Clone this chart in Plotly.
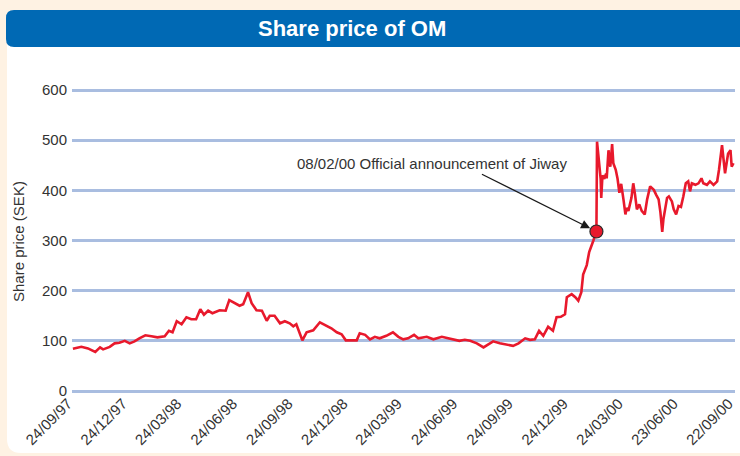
import plotly.graph_objects as go

# ---------------- data ----------------
dates = [
    "1997-09-24", "1997-10-01", "1997-10-08", "1997-10-19", "1997-10-31", "1997-11-08", "1997-11-13",
    "1997-11-24", "1997-12-02", "1997-12-10", "1997-12-19", "1997-12-27", "1998-01-04", "1998-01-12",
    "1998-01-22", "1998-02-01", "1998-02-11", "1998-02-23", "1998-03-02", "1998-03-08", "1998-03-15",
    "1998-03-23", "1998-03-31", "1998-04-08", "1998-04-16", "1998-04-23", "1998-04-29", "1998-05-06",
    "1998-05-13", "1998-05-25", "1998-06-04", "1998-06-10", "1998-06-19", "1998-06-27", "1998-07-03",
    "1998-07-11", "1998-07-17", "1998-07-25", "1998-08-03", "1998-08-11", "1998-08-16", "1998-08-24",
    "1998-09-02", "1998-09-10", "1998-09-18", "1998-09-24", "1998-09-29", "1998-10-09", "1998-10-16",
    "1998-10-27", "1998-11-07", "1998-11-15", "1998-11-26", "1998-12-05", "1998-12-13", "1998-12-20",
    "1998-12-30", "1999-01-07", "1999-01-12", "1999-01-21", "1999-01-29", "1999-02-06", "1999-02-14",
    "1999-02-25", "1999-03-08", "1999-03-17", "1999-03-25", "1999-04-02", "1999-04-12", "1999-04-19",
    "1999-05-03", "1999-05-14", "1999-05-28", "1999-06-08", "1999-06-19", "1999-06-26", "1999-07-05",
    "1999-07-14", "1999-07-25", "1999-08-05", "1999-08-13", "1999-08-21", "1999-09-01", "1999-09-12",
    "1999-09-23", "1999-10-02", "1999-10-07", "1999-10-13", "1999-10-21", "1999-10-29", "1999-11-05",
    "1999-11-12", "1999-11-20", "1999-11-28", "1999-12-04", "1999-12-11", "1999-12-18", "1999-12-21",
    "1999-12-29", "2000-01-04", "2000-01-09", "2000-01-14", "2000-01-17", "2000-01-23", "2000-01-27",
    "2000-01-31", "2000-02-03", "2000-02-08", "2000-02-09", "2000-02-15", "2000-02-16", "2000-02-18",
    "2000-02-21", "2000-02-24", "2000-02-25", "2000-02-28", "2000-03-02", "2000-03-05", "2000-03-07",
    "2000-03-11", "2000-03-14", "2000-03-17", "2000-03-20", "2000-03-24", "2000-03-27", "2000-03-29",
    "2000-04-01", "2000-04-06", "2000-04-09", "2000-04-12", "2000-04-15", "2000-04-19", "2000-04-23",
    "2000-04-28", "2000-05-02", "2000-05-07", "2000-05-13", "2000-05-17", "2000-05-21", "2000-05-24",
    "2000-05-27", "2000-05-29", "2000-06-01", "2000-06-04", "2000-06-07", "2000-06-12", "2000-06-15",
    "2000-06-19", "2000-06-23", "2000-06-27", "2000-07-01", "2000-07-05", "2000-07-09", "2000-07-12",
    "2000-07-15", "2000-07-21", "2000-07-26", "2000-07-31", "2000-08-03", "2000-08-09", "2000-08-14",
    "2000-08-20", "2000-08-26", "2000-08-29", "2000-09-03", "2000-09-05", "2000-09-08", "2000-09-13",
    "2000-09-17", "2000-09-19", "2000-09-22",
]

prices = [
    84, 86, 88, 85, 78, 87, 83,
    88, 95, 96, 100, 95, 99, 105,
    111, 109, 107, 109, 120, 117, 139,
    133, 147, 143, 143, 163, 152, 160,
    155, 161, 160, 181, 175, 170, 173,
    197, 175, 161, 160, 140, 150, 150,
    135, 139, 135, 129, 133, 101, 117,
    121, 137, 132, 125, 117, 113, 101,
    101, 101, 115, 112, 103, 108, 105,
    110, 117, 108, 103, 105, 112, 105,
    108, 103, 108, 105, 103, 100, 102,
    100, 95, 87, 93, 99, 95, 93,
    90, 95, 100, 105, 102, 103, 120,
    110, 128, 120, 147, 148, 153, 187,
    193, 187, 180, 197, 232, 251, 277,
    289, 300, 318, 497, 423, 385, 430,
    423, 433, 424, 480, 447, 492, 454,
    441, 423, 395, 413, 380, 352, 365,
    359, 385, 414, 391, 362, 372, 359,
    352, 382, 408, 401, 391, 382, 356,
    317, 343, 362, 385, 388, 378, 362,
    352, 369, 367, 388, 414, 418, 398,
    414, 411, 414, 424, 414, 411, 418,
    411, 418, 441, 490, 467, 434, 473,
    480, 447, 454,
]

tick_dates = ["1997-09-24", "1997-12-24", "1998-03-24", "1998-06-24", "1998-09-24", "1998-12-24",
              "1999-03-24", "1999-06-24", "1999-09-24", "1999-12-24", "2000-03-24", "2000-06-23",
              "2000-09-22"]
tick_labels = ["24/09/97", "24/12/97", "24/03/98", "24/06/98", "24/09/98", "24/12/98",
               "24/03/99", "24/06/99", "24/09/99", "24/12/99", "24/03/00", "23/06/00",
               "22/09/00"]
y_ticks = [0, 100, 200, 300, 400, 500, 600]

event_date = "2000-02-08"
event_price = 318
event_text = "08/02/00 Official announcement of Jiway"
title_text = "Share price of OM"
y_title = "Share price (SEK)"

# ---------------- layout helpers (pixel -> paper) ----------------
W, H = 740, 456
PL, PR, PT, PB = 72, 735, 87, 391
Y_MAX = 606
X_RANGE = ["1997-09-22 12:00", "2000-09-24 12:00"]


def px(x):
    return (x - PL) / (PR - PL)


def py(y):
    return (PB - y) / (PB - PT)


def rrect(x0, y0, x1, y1, r):
    return (
        f"M {px(x0 + r)},{py(y0)} L {px(x1 - r)},{py(y0)} "
        f"Q {px(x1)},{py(y0)} {px(x1)},{py(y0 + r)} L {px(x1)},{py(y1 - r)} "
        f"Q {px(x1)},{py(y1)} {px(x1 - r)},{py(y1)} L {px(x0 + r)},{py(y1)} "
        f"Q {px(x0)},{py(y1)} {px(x0)},{py(y1 - r)} L {px(x0)},{py(y0 + r)} "
        f"Q {px(x0)},{py(y0)} {px(x0 + r)},{py(y0)} Z"
    )


CREAM = "#FEF2E3"
BLUE = "#0069B4"
RED = "#E8192C"
GRID = "#A9BDE0"
TEXT = "#333333"
FONT = "Arial, Liberation Sans, Helvetica, sans-serif"

fig = go.Figure()

fig.add_trace(go.Scatter(
    x=dates, y=prices, mode="lines",
    line=dict(color=RED, width=2.6),
    hoverinfo="skip", showlegend=False, cliponaxis=False,
))

fig.add_trace(go.Scatter(
    x=[event_date], y=[event_price], mode="markers",
    marker=dict(size=13, color=RED, line=dict(color="#2a2a2a", width=1.2)),
    hoverinfo="skip", showlegend=False,
))

shapes = [
    dict(type="path", xref="paper", yref="paper", path=rrect(7, 10, 770, 453, 14),
         fillcolor="white", line=dict(width=0), layer="below"),
    dict(type="path", xref="paper", yref="paper", path=rrect(6, 10, 770, 47, 8),
         fillcolor=BLUE, line=dict(width=0), layer="below"),
]

annotations = [
    dict(xref="paper", yref="paper", x=px(352), y=py(29), text=f"<b>{title_text}</b>",
         showarrow=False, font=dict(family=FONT, size=22, color="white"),
         xanchor="center", yanchor="middle"),
    dict(xref="paper", yref="paper", x=px(18), y=py(242), text=y_title, textangle=-90,
         showarrow=False, font=dict(family=FONT, size=15, color=TEXT),
         xanchor="center", yanchor="middle"),
    dict(xref="paper", yref="paper", x=px(432), y=py(163), text=event_text,
         showarrow=False, font=dict(family=FONT, size=15, color=TEXT),
         xanchor="center", yanchor="middle"),
    dict(x=event_date, y=event_price, xref="x", yref="y", text="",
         showarrow=True, ax=-116, ay=-58, axref="pixel", ayref="pixel",
         arrowhead=2, arrowsize=1.4, arrowwidth=1.3, arrowcolor="#1a1a1a",
         standoff=7),
]

fig.update_layout(
    width=W, height=H, autosize=False,
    margin=dict(l=PL, r=W - PR, t=PT, b=H - PB, pad=0),
    paper_bgcolor=CREAM,
    plot_bgcolor="rgba(0,0,0,0)",
    shapes=shapes,
    annotations=annotations,
    font=dict(family=FONT, size=15, color=TEXT),
    xaxis=dict(
        type="date", range=X_RANGE,
        tickmode="array", tickvals=tick_dates, ticktext=tick_labels,
        tickangle=-45, showgrid=False, zeroline=False, showline=False,
        ticks="", tickfont=dict(family=FONT, size=15, color=TEXT),
        ticklabelshift=-5, ticklabelstandoff=0,
        automargin=False, fixedrange=True,
    ),
    yaxis=dict(
        range=[0, Y_MAX], tickmode="array", tickvals=y_ticks,
        showgrid=True, gridcolor=GRID, gridwidth=2.5,
        zeroline=True, zerolinecolor=GRID, zerolinewidth=2.5,
        showline=False, ticks="", ticklabelstandoff=4,
        tickfont=dict(family=FONT, size=15, color=TEXT),
        automargin=False, fixedrange=True,
    ),
)

fig.write_html(
    "out.html",
    config={"displayModeBar": False},
    post_script="document.body.style.margin='0';document.body.style.overflow='hidden';",
)
